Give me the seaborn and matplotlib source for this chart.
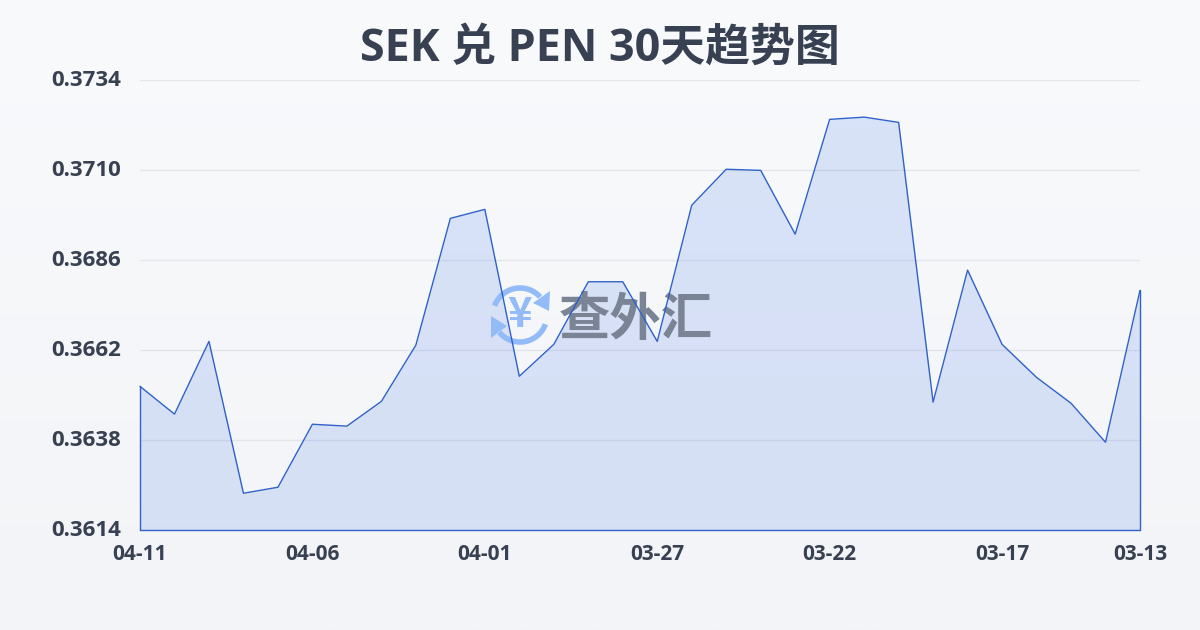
import numpy as np
import pandas as pd
import matplotlib
matplotlib.use('Agg')
import matplotlib.pyplot as plt
import seaborn as sns
from matplotlib.patches import Arc, Polygon
from matplotlib.transforms import Affine2D, ScaledTranslation

# values, newest day first
dates = ['04-11', '04-10', '04-09', '04-08', '04-07', '04-06', '04-05', '04-04', '04-03', '04-02',
         '04-01', '03-31', '03-30', '03-29', '03-28', '03-27', '03-26', '03-25', '03-24', '03-23',
         '03-22', '03-21', '03-20', '03-19', '03-18', '03-17', '03-16', '03-15', '03-14', '03-13']
rates = [0.36523, 0.36449, 0.36643, 0.36238, 0.36254, 0.36422, 0.36417, 0.36483, 0.36633, 0.36971,
         0.36995, 0.36550, 0.36635, 0.36802, 0.36802, 0.36643, 0.37006, 0.37102, 0.37099, 0.36929,
         0.37235, 0.37241, 0.37227, 0.36481, 0.36833, 0.36635, 0.36547, 0.36478, 0.36374, 0.36779]
y_ticks = [0.3614, 0.3638, 0.3662, 0.3686, 0.3710, 0.3734]
x_tick_labels = ['04-11', '04-06', '04-01', '03-27', '03-22', '03-17', '03-13']

BLUE = '#2f62c9'
TEXT = '#374151'
ICON = '#93bbf7'

sns.set_theme(style='white')
plt.rcParams['font.family'] = ['Open Sans', 'Noto Sans CJK SC', 'DejaVu Sans']

df = pd.DataFrame({'date': dates, 'rate': rates})
df['pos'] = range(len(df))

fig = plt.figure(figsize=(12, 6.3), dpi=100)

# page background gradient
bg = fig.add_axes([0, 0, 1, 1], zorder=0)
bg.imshow(np.linspace(0, 1, 256).reshape(-1, 1), aspect='auto', extent=[0, 1, 0, 1],
          cmap=matplotlib.colors.LinearSegmentedColormap.from_list('bg', ['#f9fafc', '#f2f4f7']))
bg.axis('off')

ax = fig.add_axes([140 / 1200, 100 / 630, 1000 / 1200, 450 / 630], zorder=1)
ax.patch.set_alpha(0)

ax.fill_between(df['pos'], df['rate'], y_ticks[0], facecolor='#3b73ea', alpha=0.16, linewidth=0, zorder=1)

# watermark, placed in pixels
px = Affine2D().scale(1, -1).translate(0, 630)
for t1, t2 in [(200, 318), (20, 140)]:
    ax.add_patch(Arc((520, 315), 54, 54, theta1=t1, theta2=t2, transform=px, color=ICON, lw=4,
                     clip_on=False, zorder=2))
ax.add_patch(Polygon([(549, 311), (533, 303), (550, 291)], transform=px, color=ICON, lw=0, zorder=2))
ax.add_patch(Polygon([(491, 316), (507, 326), (491, 338)], transform=px, color=ICON, lw=0, zorder=2))
ax.text(520, 315, '¥', transform=px, color=ICON, fontsize=30, fontweight='black', ha='center', va='center',
        family=['Noto Sans CJK SC'], zorder=2)
ax.text(636, 319, '查外汇', transform=px, color='#7b8494', fontsize=37, fontweight='black', ha='center', va='center',
        family=['Noto Sans CJK SC'], zorder=2)

sns.lineplot(data=df, x='pos', y='rate', color=BLUE, linewidth=1, ax=ax, zorder=3, clip_on=False)
# outline down the sides and along the base
ax.plot([0, 0], [rates[0], y_ticks[0]], color=BLUE, lw=1, zorder=3, clip_on=False)
ax.plot([len(df) - 1, len(df) - 1], [rates[-1], y_ticks[0]], color=BLUE, lw=1, zorder=3, clip_on=False)
ax.plot([0, len(df) - 1], [y_ticks[0], y_ticks[0]], color=BLUE, lw=1, zorder=3, clip_on=False)

ax.set_xlim(0, len(df) - 1)
ax.set_ylim(y_ticks[0], y_ticks[-1])
ax.set_yticks(y_ticks)
ax.set_yticklabels([f'{v:.4f}' for v in y_ticks], fontsize=16, fontweight='bold', color=TEXT)
ax.set_xticks([dates.index(d) for d in x_tick_labels])
ax.set_xticklabels(x_tick_labels, fontsize=15, fontweight='bold', color=TEXT)
ax.set_xlabel('')
ax.set_ylabel('')
ax.tick_params(axis='y', length=0, pad=13.5)
ax.tick_params(axis='x', length=4, width=1, color='#e2e5ea', pad=6)
ax.grid(axis='y', color='#e2e5ea', linewidth=1)
ax.set_axisbelow(True)
sns.despine(ax=ax, left=True, bottom=True)

# the value labels sit a touch above their grid lines
for lab in ax.get_yticklabels():
    lab.set_transform(lab.get_transform() + ScaledTranslation(0, 2 / 100, fig.dpi_scale_trans))

fig.text(0.5, 1 - 49 / 630, 'SEK 兑 PEN 30天趋势图', fontsize=32.3, fontweight='bold', color=TEXT,
         ha='center', va='center')

fig.savefig('out.png', dpi=100)
